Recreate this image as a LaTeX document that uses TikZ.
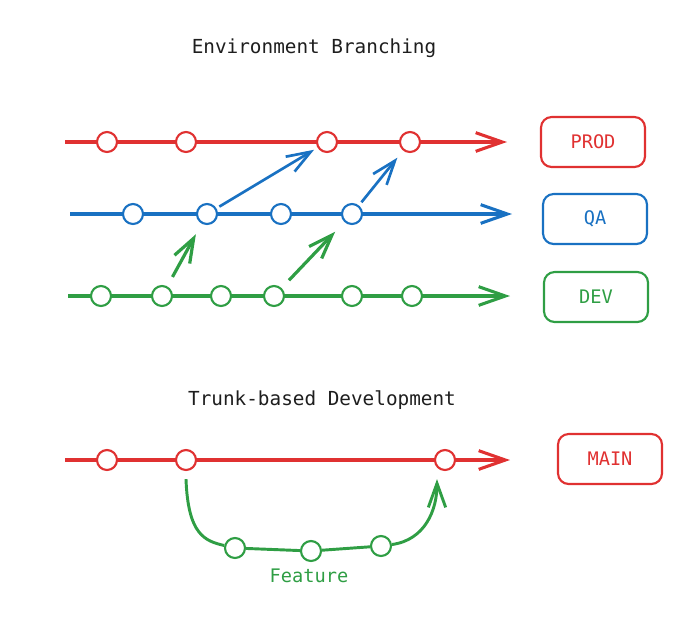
\documentclass[tikz,border=0pt]{standalone}
\usepackage{fontspec}
\setmainfont{DejaVu Sans Mono}
\usepackage{tikz}
\usetikzlibrary{arrows.meta}
\definecolor{prodred}{HTML}{E03131}
\definecolor{qablue}{HTML}{1971C2}
\definecolor{devgreen}{HTML}{2F9E44}
\definecolor{ink}{HTML}{1E1E1E}

\begin{document}
\begin{tikzpicture}[x=0.75pt, y=-0.75pt,
			commit/.style = {shape=circle, draw=#1, fill=white, line width=1.6pt, minimum size=15pt, inner sep=0pt},
			branch/.style = {line width=2.3pt, -{Straight Barb[length=20pt,width=14pt]}},
			merge/.style = {line width=2pt, -{Straight Barb[length=18pt,width=13pt]}},
			envbox/.style = {shape=rectangle, rounded corners=8pt, draw, line width=1.6pt, minimum width=78pt, minimum height=37.5pt, font=\fontsize{14}{16}\selectfont},
			heading/.style = {text=ink, font=\fontsize{14.5}{17}\selectfont}]
			\useasboundingbox (0,0) rectangle (693,637);
			% environment branching
			\node[heading] (envtitle) at (314,48) {Environment Branching};
			\coordinate (prodstart) at (65,142);
			\coordinate (prodend) at (507,142);
			\coordinate (qastart) at (70,214);
			\coordinate (qaend) at (512,214);
			\coordinate (devstart) at (68,296);
			\coordinate (devend) at (510,296);
			\draw[branch, prodred] (prodstart) -- (prodend);
			\draw[branch, qablue] (qastart) -- (qaend);
			\draw[branch, devgreen] (devstart) -- (devend);
			\foreach \x [count=\i] in {107,186,327,410}
				\node[commit=prodred] (p\i) at (\x,142) {};
			\foreach \x [count=\i] in {133,207,281,352}
				\node[commit=qablue] (q\i) at (\x,214) {};
			\foreach \x [count=\i] in {101,162,221,274,352,412}
				\node[commit=devgreen] (d\i) at (\x,296) {};
			\node[envbox, prodred] (prod) at (593,142) {PROD};
			\node[envbox, qablue] (qa) at (595,219) {QA};
			\node[envbox, devgreen] (dev) at (596,297) {DEV};
			% promotions
			\draw[merge, qablue, shorten <=2.5pt, shorten >=3pt] (q2) -- (p3);
			\draw[merge, qablue, shorten <=3pt, shorten >=6.8pt] (q4) -- (p4);
			\draw[merge, devgreen, line width=2.4pt, shorten <=8pt, shorten >=9pt] (d2) -- (q2);
			\draw[merge, devgreen, line width=2.4pt, shorten <=8pt, shorten >=10pt] (d4) -- (q4);
			% trunk-based development
			\node[heading] (trunktitle) at (322,400) {Trunk-based Development};
			\coordinate (mainstart) at (65,460);
			\coordinate (mainend) at (510,460);
			\draw[branch, prodred] (mainstart) -- (mainend);
			\foreach \x [count=\i] in {107,186,445}
				\node[commit=prodred] (m\i) at (\x,460) {};
			\node[envbox, prodred] (main) at (610,459) {MAIN};
			\node[commit=devgreen] (f1) at (235,548) {};
			\node[commit=devgreen] (f2) at (311,551) {};
			\node[commit=devgreen] (f3) at (381,546) {};
			\draw[merge, devgreen, line width=2.2pt] ([yshift=-6pt]m2.south) .. controls (188,535) and (205,541) .. (f1) -- (f2) -- (f3) .. controls (425,540) and (437,510) .. ([shift={(-6pt,-6pt)}]m3.south);
			\node[text=devgreen, font=\fontsize{14}{16}\selectfont] (feature) at (309,576) {Feature};
\end{tikzpicture}
\end{document}
